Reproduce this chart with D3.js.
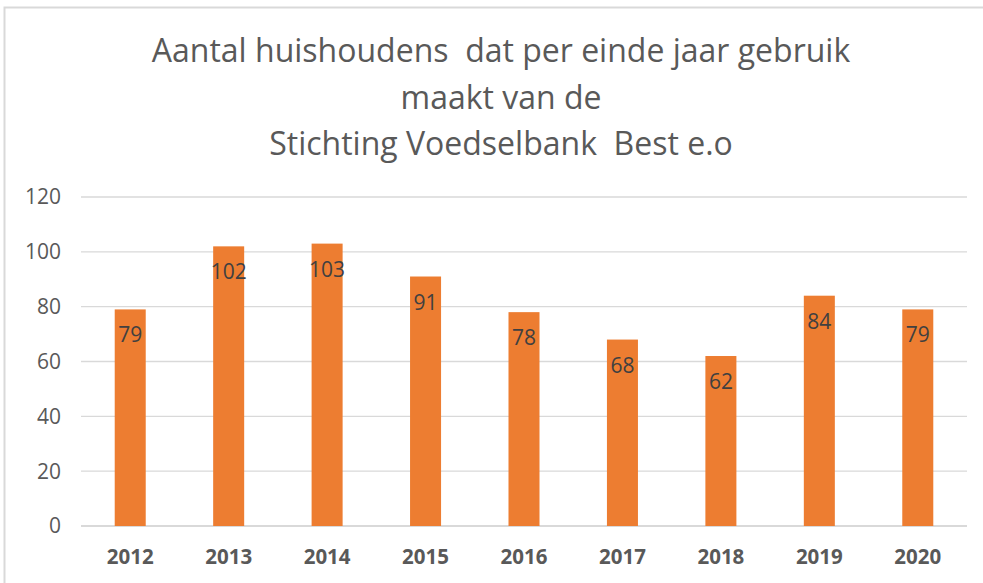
<!DOCTYPE html>
<html>
<head>
<meta charset="utf-8">
<script src="https://cdn.jsdelivr.net/npm/d3@7"></script>
<style>
  body { margin: 0; background: #fff; }
  svg { display: block; font-family: "Open Sans", "Noto Sans", sans-serif; }
</style>
</head>
<body>
<svg width="983" height="583"></svg>
<script>
// jaren en aantal huishoudens
var years = ["2012", "2013", "2014", "2015", "2016", "2017", "2018", "2019", "2020"]
var households = [79, 102, 103, 91, 78, 68, 62, 84, 79]
var yTicks = [0, 20, 40, 60, 80, 100, 120]
var titleLines = ["Aantal huishoudens  dat per einde jaar gebruik", "maakt van de", "Stichting Voedselbank  Best e.o"]

var svg = d3.select("svg")

// rand van het grafiekvlak
svg.append("path")
    .attr("d", "M4.5,583 V7.5 H983")
    .attr("fill", "none")
    .attr("stroke", "#d9d9d9")
    .attr("stroke-width", 2)

// titel
svg.append("g")
  .selectAll("text")
  .data(titleLines)
  .enter().append("text")
    .attr("x", 501)
    .attr("y", function(d, i) { return 62 + i * 46.5 })
    .attr("text-anchor", "middle")
    .style("white-space", "pre")
    .style("font-size", "32px")
    .style("fill", "#595959")
    .text(function(d) { return d })

var x = d3.scaleBand()
    .domain(years)
    .range([81, 967])
    .paddingInner(0.685)
    .paddingOuter(0.3425)

var y = d3.scaleLinear()
    .domain([0, 120])
    .range([526, 197])

// gridlijnen
svg.append("g")
  .selectAll("line")
  .data(yTicks)
  .enter().append("line")
    .attr("x1", 81)
    .attr("x2", 967)
    .attr("y1", function(d) { return y(d) })
    .attr("y2", function(d) { return y(d) })
    .attr("stroke", "#d9d9d9")
    .attr("stroke-width", function(d) { return d === 0 ? 2 : 1.3 })

// y-as labels
svg.append("g")
  .selectAll("text")
  .data(yTicks)
  .enter().append("text")
    .attr("x", 61)
    .attr("y", function(d) { return y(d) })
    .attr("dy", "0.35em")
    .attr("text-anchor", "end")
    .style("font-size", "21px")
    .style("fill", "#595959")
    .text(function(d) { return d })

// staven
svg.append("g")
  .selectAll("rect")
  .data(households)
  .enter().append("rect")
    .attr("x", function(d, i) { return x(years[i]) })
    .attr("y", function(d) { return y(d) })
    .attr("width", x.bandwidth())
    .attr("height", function(d) { return y(0) - y(d) })
    .attr("fill", "#ed7d31")

// waardes in de staven
svg.append("g")
  .selectAll("text")
  .data(households)
  .enter().append("text")
    .attr("x", function(d, i) { return x(years[i]) + x.bandwidth() / 2 })
    .attr("y", function(d) { return y(d) + 33 })
    .attr("text-anchor", "middle")
    .style("font-size", "21px")
    .style("fill", "#404040")
    .text(function(d) { return d })

// x-as labels
svg.append("g")
  .selectAll("text")
  .data(years)
  .enter().append("text")
    .attr("x", function(d) { return x(d) + x.bandwidth() / 2 })
    .attr("y", 564)
    .attr("text-anchor", "middle")
    .style("font-size", "20.5px")
    .style("font-weight", "bold")
    .style("fill", "#595959")
    .text(function(d) { return d })
</script>
</body>
</html>
